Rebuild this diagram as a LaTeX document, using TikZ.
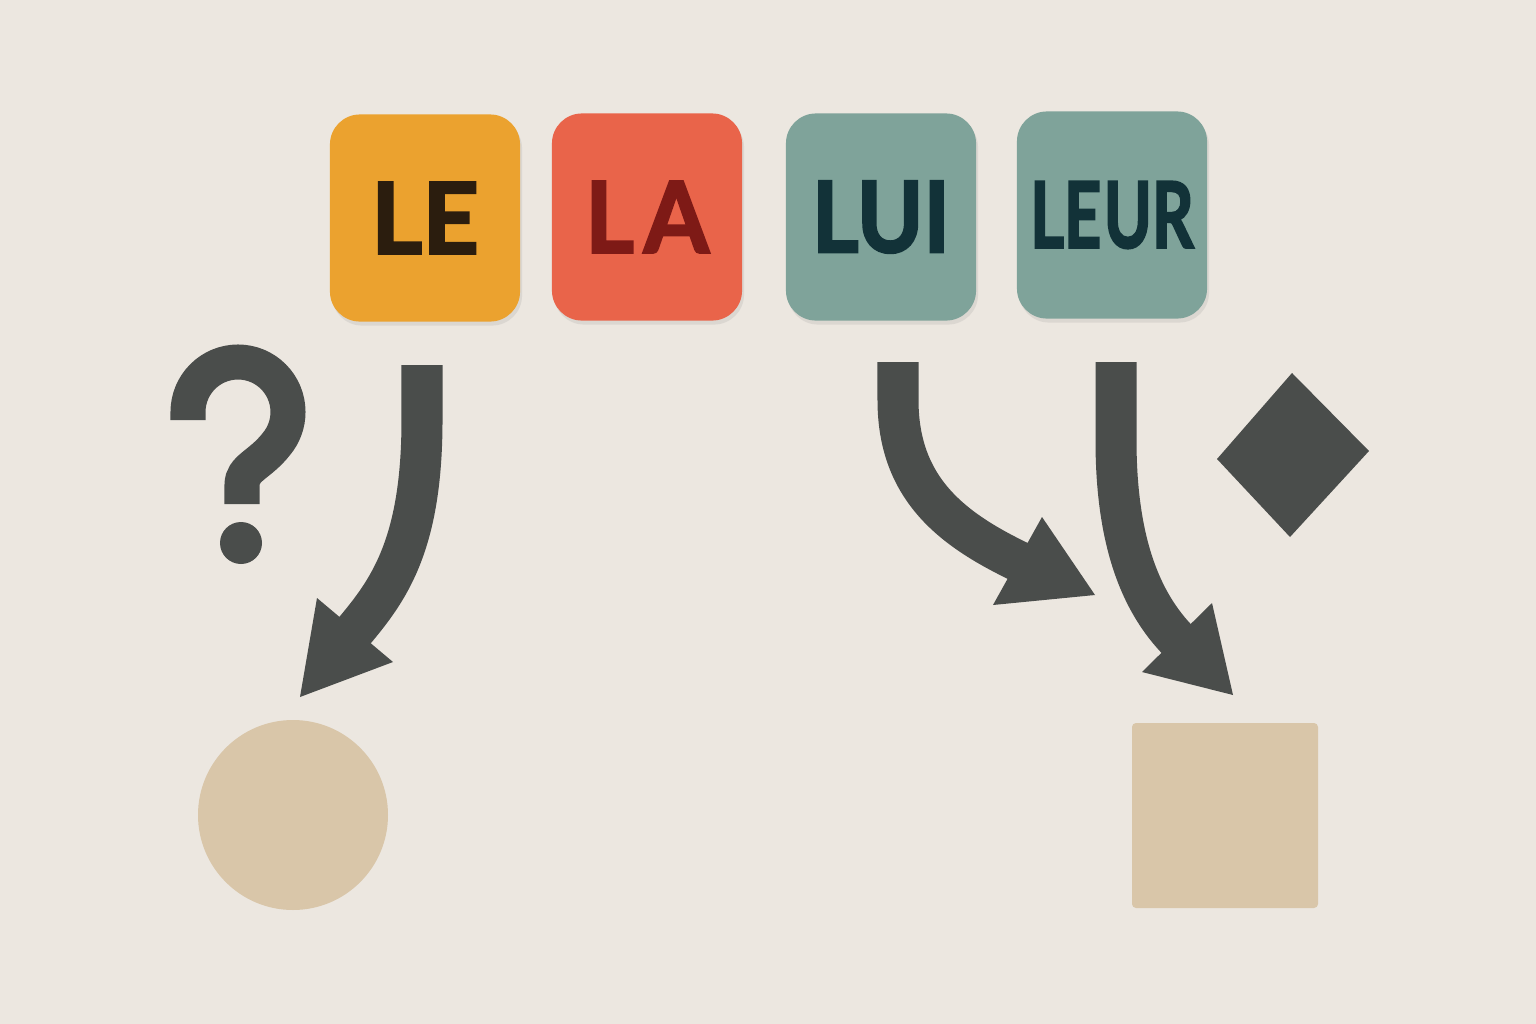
\documentclass[tikz,border=0pt]{standalone}
\usepackage{fontspec}
\setmainfont{Lato}[BoldFeatures={FakeBold=2.5}]
\usetikzlibrary{shadows}

\definecolor{paper}{HTML}{ECE7E0}
\definecolor{ochre}{HTML}{EBA22F}
\definecolor{coral}{HTML}{E9644A}
\definecolor{sage}{HTML}{7FA39A}
\definecolor{ink}{HTML}{4A4D4B}
\definecolor{sand}{HTML}{D9C6A9}
\definecolor{brownink}{HTML}{2B1D0E}
\definecolor{redink}{HTML}{7E1A16}
\definecolor{tealink}{HTML}{123238}

\tikzset{
  tile/.style={rounded corners=0.3cm, minimum width=1.9cm, minimum height=2.07cm,
    inner sep=0pt, drop shadow={opacity=0.15, shadow xshift=0.02cm, shadow yshift=-0.04cm}},
  band/.style={draw=ink, line width=0.41cm},
  head/.style={fill=ink},
}

\begin{document}
\begin{tikzpicture}[x=0.01cm, y=-0.01cm, every node/.style={font=\bfseries\fontsize{28}{28}\selectfont}] % pixel grid, y downwards

    % --- Paper ---
    \fill[paper] (0,0) rectangle (1536,1024);
    \useasboundingbox (0,0) rectangle (1536,1024);

    % --- Word tiles ---
    \node[tile, fill=ochre, text=brownink] (le)   at (425,218) {\scalebox{1.0}[1]{LE}};
    \node[tile, fill=coral, text=redink]   (la)   at (647,217) {\scalebox{0.95}[1]{L\kern3pt A}};
    \node[tile, fill=sage,  text=tealink]  (lui)  at (881,217) {\scalebox{0.91}[1]{LUI}};
    \node[tile, fill=sage,  text=tealink]  (leur) at (1112,215) {\scalebox{0.66}[0.93]{LE\kern1pt UR}};

    % --- Coordinates ---
    % arrow tails under the tiles, heads inside the arrow tips
    \coordinate (T1) at (422,365);
    \coordinate (H1) at (345,642);
    \coordinate (T2) at (898,362);
    \coordinate (H2) at (1035,569);
    \coordinate (T3) at (1116,362);
    \coordinate (H3) at (1188,650);

    % --- Arrows ---
    % LE: down and to the left, towards the circle
    \draw[band] (T1) -- (422,420) .. controls (422,555) and (383,597) .. (H1);
    \fill[head] (317,598) -- (393,662) -- (300,697) -- cycle;

    % LUI: down and to the right
    \draw[band] (T2) -- (898,400) .. controls (898,495) and (960,535) .. (H2);
    \fill[head] (1042,517) -- (1095,595) -- (993,605) -- cycle;

    % LEUR: down towards the square
    \draw[band] (T3) -- (1116,440) .. controls (1116,550) and (1145,612) .. (H3);
    \fill[head] (1212,603) -- (1233,695) -- (1142,672) -- cycle;

    % --- Question mark ---
    \draw[ink, line width=0.35cm] (188,420) -- (188,412) arc[start angle=180, end angle=400, radius=50]
        .. controls (260,465) and (242,468) .. (242,485) -- (242,504);
    \fill[ink] (241,543) circle[radius=21];

    % --- Targets ---
    \fill[ink] (1292,373) -- (1369,451) -- (1290,537) -- (1217,459) -- cycle;
    \fill[sand] (293,815) circle[radius=95];
    \fill[sand, rounded corners=0.04cm] (1132,723) rectangle (1318,908);

\end{tikzpicture}
\end{document}
